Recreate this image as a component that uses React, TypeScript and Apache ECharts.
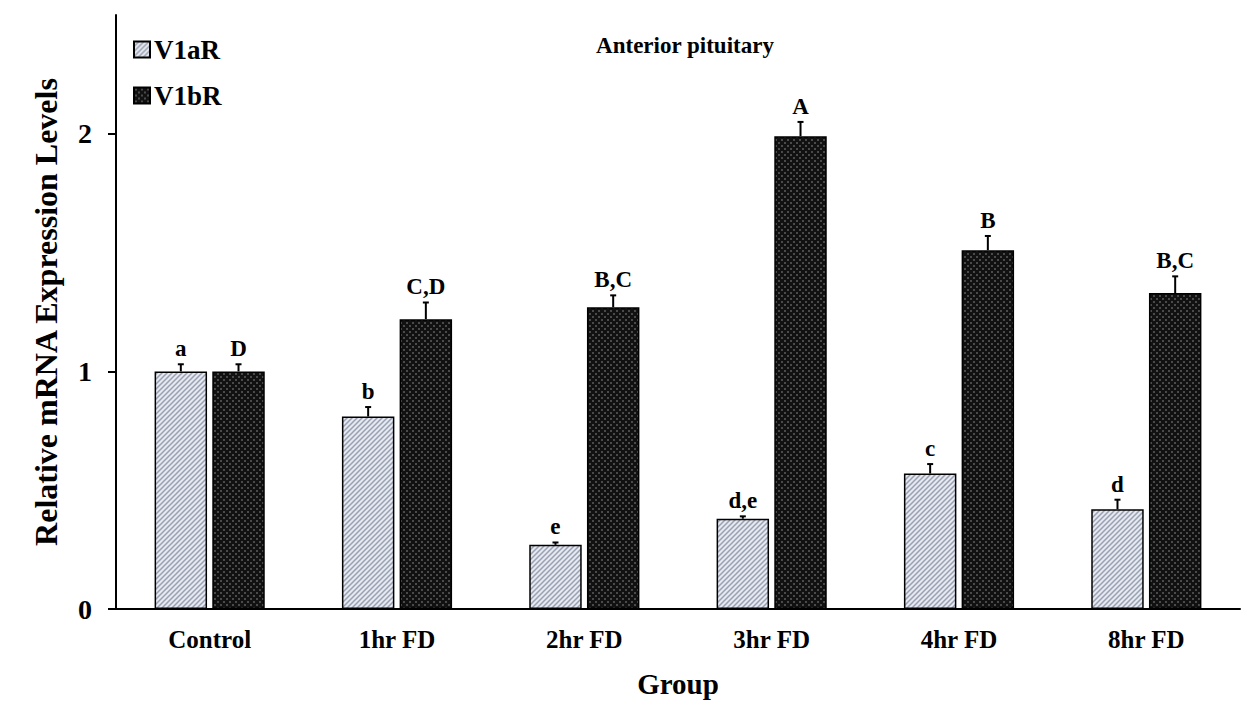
import React, { useEffect, useRef } from "react";
import * as echarts from "echarts";

const categories = ["Control", "1hr FD", "2hr FD", "3hr FD", "4hr FD", "8hr FD"];
const v1aR = [1.0, 0.81, 0.27, 0.38, 0.57, 0.42];
const v1aRErr = [0.03, 0.04, 0.01, 0.01, 0.04, 0.04];
const v1aRLetters = ["a", "b", "e", "d,e", "c", "d"];
const v1bR = [1.0, 1.22, 1.27, 1.99, 1.51, 1.33];
const v1bRErr = [0.03, 0.07, 0.05, 0.06, 0.06, 0.07];
const v1bRLetters = ["D", "C,D", "B,C", "A", "B", "B,C"];
const yTicks = [0, 1, 2];

const FONT = '"Liberation Serif", "Times New Roman", serif';
const BAR_FRAC = 0.28;
const GAP_FRAC = 0.1;

function makeHatch(): string {
  const c = document.createElement("canvas");
  c.width = 5;
  c.height = 5;
  const g = c.getContext("2d")!;
  g.fillStyle = "#e6e9f0";
  g.fillRect(0, 0, 5, 5);
  g.strokeStyle = "#98a0b2";
  g.lineWidth = 1.5;
  g.beginPath();
  g.moveTo(-1, 6);
  g.lineTo(6, -1);
  g.moveTo(-3.5, 3.5);
  g.lineTo(3.5, -3.5);
  g.moveTo(1.5, 8.5);
  g.lineTo(8.5, 1.5);
  g.stroke();
  return c.toDataURL();
}

function makeDots(): string {
  const c = document.createElement("canvas");
  c.width = 6;
  c.height = 6;
  const g = c.getContext("2d")!;
  g.fillStyle = "#111111";
  g.fillRect(0, 0, 6, 6);
  g.fillStyle = "#4a4a4a";
  g.fillRect(1, 1, 2, 2);
  g.fillRect(4, 4, 2, 2);
  return c.toDataURL();
}

function errSeries(vals: number[], errs: number[], letters: string[], sign: number) {
  return {
    type: "custom",
    z: 10,
    silent: true,
    data: vals.map((v, i) => [i, v, errs[i]]),
    renderItem: (params: any, api: any) => {
      const i = api.value(0);
      const v = api.value(1);
      const e = api.value(2);
      const base = api.coord([i, v]);
      const top = api.coord([i, v + e]);
      const bandW = api.size([1, 0])[0];
      const off = (bandW * BAR_FRAC * (1 + GAP_FRAC)) / 2;
      const x = base[0] + sign * off;
      return {
        type: "group",
        children: [
          {
            type: "line",
            shape: { x1: x, y1: base[1], x2: x, y2: top[1] },
            style: { stroke: "#000", lineWidth: 2 },
          },
          {
            type: "line",
            shape: { x1: x - 3, y1: top[1], x2: x + 3, y2: top[1] },
            style: { stroke: "#000", lineWidth: 2 },
          },
          {
            type: "text",
            x: x,
            y: top[1] - 4,
            style: {
              text: letters[params.dataIndex],
              fontFamily: FONT,
              fontWeight: "bold",
              fontSize: 23,
              fill: "#000",
              align: "center",
              verticalAlign: "bottom",
            },
          },
        ],
      };
    },
  };
}

export default function App() {
  const ref = useRef<HTMLDivElement>(null);
  useEffect(() => {
    if (!ref.current) return;
    const chart = echarts.init(ref.current, undefined, { renderer: "svg" });
    const hatch = { image: makeHatch(), repeat: "repeat" };
    const dots = { image: makeDots(), repeat: "repeat" };
    chart.setOption({
      animation: false,
      backgroundColor: "#fff",
      title: {
        text: "Anterior pituitary",
        left: 680,
        top: 29,
        textAlign: "center",
        textStyle: { fontFamily: FONT, fontWeight: "bold", fontSize: 23, color: "#000" },
      },
      legend: {
        orient: "vertical",
        left: 128,
        top: 31,
        itemWidth: 16,
        itemHeight: 16,
        itemGap: 19,
        icon: "rect",
        textStyle: { fontFamily: FONT, fontWeight: "bold", fontSize: 27, color: "#000", padding: [0, 0, 0, -1] },
        data: ["V1aR", "V1bR"],
      },
      grid: { left: 116, right: 9, top: 15, bottom: 104, containLabel: false },
      xAxis: {
        type: "category",
        data: categories,
        name: "Group",
        nameLocation: "middle",
        nameGap: 60,
        nameTextStyle: { fontFamily: FONT, fontWeight: "bold", fontSize: 29, color: "#000" },
        axisLine: { lineStyle: { color: "#000", width: 2 } },
        axisTick: { show: false },
        axisLabel: { fontFamily: FONT, fontWeight: "bold", fontSize: 25, color: "#000", margin: 18 },
      },
      yAxis: {
        type: "value",
        min: 0,
        max: 2.5,
        interval: 0.5,
        name: "Relative mRNA Expression Levels",
        nameLocation: "middle",
        nameGap: 54,
        nameTextStyle: { fontFamily: FONT, fontWeight: "bold", fontSize: 32, color: "#000" },
        axisLine: { show: true, lineStyle: { color: "#000", width: 2 } },
        axisTick: { show: true, length: 8, customValues: yTicks, lineStyle: { color: "#000", width: 2 } },
        axisLabel: { fontFamily: FONT, fontWeight: "bold", fontSize: 28, color: "#000", margin: 24, customValues: yTicks },
        splitLine: { show: false },
      },
      series: [
        {
          name: "V1aR",
          type: "bar",
          data: v1aR,
          barWidth: BAR_FRAC * 100 + "%",
          barGap: GAP_FRAC * 100 + "%",
          itemStyle: { color: hatch, borderColor: "#000", borderWidth: 1.5 },
        },
        {
          name: "V1bR",
          type: "bar",
          data: v1bR,
          barWidth: BAR_FRAC * 100 + "%",
          barGap: GAP_FRAC * 100 + "%",
          itemStyle: { color: dots, borderColor: "#000", borderWidth: 1.5 },
        },
        errSeries(v1aR, v1aRErr, v1aRLetters, -1),
        errSeries(v1bR, v1bRErr, v1bRLetters, 1),
      ],
    });
    return () => chart.dispose();
  }, []);
  return (
    <div
      ref={ref}
      style={{ position: "fixed", left: 0, top: 0, width: 1249, height: 713 }}
    />
  );
}
